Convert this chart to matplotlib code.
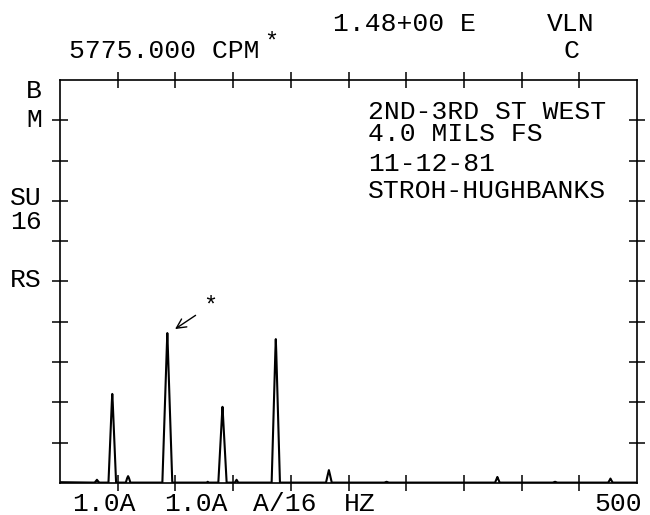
import matplotlib
matplotlib.use("Agg")
import matplotlib.pyplot as plt

plt.rcParams["font.family"] = ["Liberation Mono", "DejaVu Sans Mono"]

# spectrum trace (Hz, amplitude in grid divisions)
freq_hz = [0, 30, 31.5, 32, 32.5, 34,
           42, 44.9, 45.3, 45.7, 48.6,
           57, 58.2, 59, 59.8, 61,
           88.7, 92.6, 93, 93.4, 97.3,
           127, 128, 129,
           137.2, 140.4, 140.8, 141.2, 144.4,
           151.5, 153, 154.5,
           183.4, 186.6, 187, 187.4, 190.6,
           230.5, 232, 233, 234, 235.5,
           281, 283, 285,
           377, 378.3, 379, 379.7, 381,
           427, 429, 431,
           475, 476.3, 477, 477.7, 479,
           500]
amplitude = [0.02, 0.01, 0.06, 0.08, 0.06, 0.01,
             0.01, 2.0, 2.21, 2.0, 0.01,
             0.01, 0.12, 0.17, 0.12, 0.01,
             0.01, 3.4, 3.72, 3.4, 0.01,
             0.01, 0.03, 0.01,
             0.01, 1.7, 1.89, 1.7, 0.01,
             0.01, 0.08, 0.01,
             0.01, 3.25, 3.57, 3.25, 0.01,
             0.01, 0.2, 0.32, 0.2, 0.01,
             0.01, 0.03, 0.01,
             0.01, 0.1, 0.15, 0.1, 0.01,
             0.01, 0.03, 0.01,
             0.01, 0.07, 0.11, 0.07, 0.01,
             0.01]

x_ticks = [50, 100, 150, 200, 250, 300, 350, 400, 450]
y_ticks = [1, 2, 3, 4, 5, 6, 7, 8, 9]

bottom_labels = ["1.0A", "1.0A", "A/16", "HZ", "500"]
bottom_label_x = [38, 118, 194.5, 260, 484]
left_labels = ["B", "M", "SU\n16", "RS"]
left_label_y = [9.73, 9.0, 6.77, 5.04]
info_lines = ["2ND-3RD ST WEST", "4.0 MILS FS", "11-12-81", "STROH-HUGHBANKS"]
info_y = [9.2, 8.65, 7.92, 7.24]

fig = plt.figure(figsize=(6.5, 5.15), dpi=100)
ax = fig.add_axes([60 / 650, 32 / 515, 577 / 650, 403 / 515])
ax.plot(freq_hz, amplitude, color="black", lw=1.5)
ax.set_xlim(0, 500)
ax.set_ylim(0, 10)
ax.set_xticks(x_ticks)
ax.set_yticks(y_ticks)
ax.tick_params(direction="inout", length=12, width=1.1, top=True, right=True,
               labelbottom=False, labelleft=False)
for s in ax.spines.values():
    s.set_linewidth(1.2)

fs = 19
for lab, xv in zip(bottom_labels, bottom_label_x):
    ax.text(xv, -0.52, lab, ha="center", va="center", fontsize=fs, clip_on=False)
for lab, yv in zip(left_labels, left_label_y):
    ax.text(-15.6, yv, lab, ha="right", va="center", fontsize=fs,
            linespacing=1.0, multialignment="right", clip_on=False)
for lab, yv in zip(info_lines, info_y):
    ax.text(267, yv, lab, ha="left", va="center", fontsize=fs)

ax.annotate("*", xy=(99.7, 3.82), xytext=(130, 4.4), fontsize=17,
            ha="center", va="center",
            arrowprops=dict(arrowstyle="->", color="black", lw=1,
                            shrinkA=4, shrinkB=0))

fig.text(69 / 650, 1 - 51 / 515, "5775.000 CPM", ha="left", va="center", fontsize=fs)
fig.text(271 / 650, 1 - 42 / 515, "*", ha="center", va="center", fontsize=17)
fig.text(333 / 650, 1 - 24 / 515, "1.48+00 E", ha="left", va="center", fontsize=fs)
fig.text(571 / 650, 1 - 24 / 515, "VLN", ha="center", va="center", fontsize=fs)
fig.text(571 / 650, 1 - 51 / 515, "C", ha="center", va="center", fontsize=fs)

fig.savefig("out.png", dpi=100)
